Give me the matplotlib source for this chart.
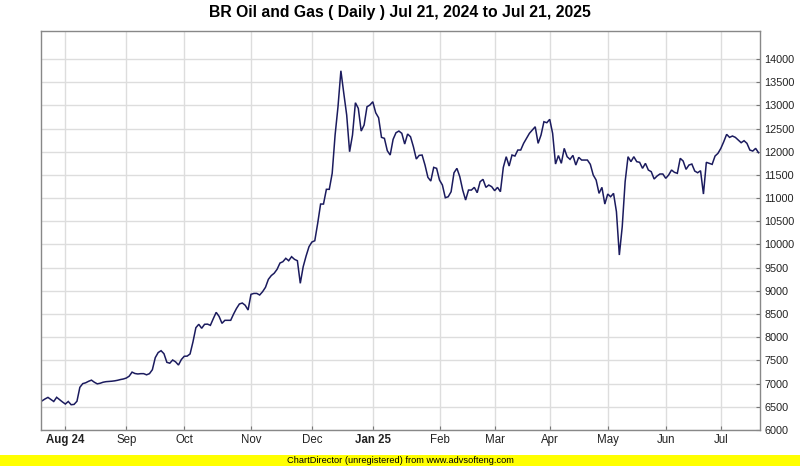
import matplotlib
matplotlib.use('Agg')
import matplotlib.pyplot as plt
from matplotlib.patches import Rectangle
import numpy as np

# daily closes (one per trading session)
close = [
    6630, 6670, 6703, 6660, 6615, 6705, 6655, 6605, 6560, 6615,
    6545, 6552, 6620, 6920, 7000, 7018, 7050, 7075, 7030, 6995,
    7008, 7030, 7042, 7047, 7052, 7060, 7072, 7088, 7100, 7120,
    7160, 7248, 7218, 7208, 7215, 7215, 7190, 7215, 7300, 7560,
    7670, 7710, 7645, 7459, 7440, 7509, 7470, 7401, 7520, 7590,
    7593, 7640, 7900, 8206, 8279, 8193, 8279, 8283, 8257, 8400,
    8537, 8450, 8300, 8365, 8365, 8365, 8500, 8620, 8717, 8738,
    8690, 8587, 8925, 8945, 8945, 8911, 8982, 9077, 9249, 9330,
    9380, 9465, 9600, 9629, 9702, 9650, 9737, 9680, 9650, 9163,
    9521, 9751, 9952, 10053, 10081, 10456, 10872, 10872, 11190, 11190,
    11535, 12360, 12970, 13746, 13259, 12791, 12000, 12360, 13057, 12936,
    12446, 12576, 12970, 13007, 13078, 12841, 12733, 12310, 12289, 12022,
    11929, 12267, 12410, 12446, 12397, 12166, 12382, 12324, 12108, 11843,
    11922, 11929, 11713, 11448, 11368, 11663, 11642, 11390, 11282, 11008,
    11030, 11138, 11547, 11642, 11461, 11174, 10959, 11174, 11174, 11232,
    11117, 11354, 11405, 11232, 11282, 11246, 11160, 11232, 11138, 11663,
    11893, 11692, 11929, 11907, 12037, 12037, 12181, 12289, 12397, 12468,
    12539, 12181, 12360, 12647, 12626, 12699, 12397, 11735, 11918, 11750,
    12073, 11893, 11836, 11922, 11713, 11879, 11821, 11821, 11821, 11728,
    11498, 11390, 11103, 11232, 10872, 11088, 11030, 11103, 10707, 9773,
    10383, 11354, 11893, 11786, 11893, 11786, 11772, 11642, 11750, 11606,
    11570, 11412, 11476, 11520, 11520, 11427, 11498, 11606, 11556, 11535,
    11858, 11800, 11620, 11713, 11735, 11584, 11547, 11591, 11088, 11772,
    11750, 11728, 11907, 11965, 12073, 12216, 12375, 12310, 12339, 12310,
    12252, 12195, 12238, 12181, 12037, 12015, 12073, 11979,
]

# first trading session of each month (index into close)
month_labels = ['Aug 24', 'Sep', 'Oct', 'Nov', 'Dec', 'Jan 25',
                'Feb', 'Mar', 'Apr', 'May', 'Jun', 'Jul']
month_first = [8, 29, 49, 72, 93, 114, 137, 156, 175, 195, 215, 234]
year_labels = ['Aug 24', 'Jan 25']

y_ticks = list(range(6000, 14001, 500))

narrow = ['Liberation Sans Narrow', 'Liberation Sans', 'DejaVu Sans']
plt.rcParams['font.family'] = ['Liberation Sans', 'DejaVu Sans']

W, H = 800, 466
fig = plt.figure(figsize=(W / 100, H / 100), dpi=100)
fig.patch.set_facecolor('white')

# plot area in pixels: x 40.7..760, y 30.7..430
ax = fig.add_axes([40.7 / W, (H - 430) / H, (760 - 40.7) / W, (430 - 30.7) / H])

x = np.arange(len(close))
ax.plot(x, close, color='#1b1b5e', lw=1.1, solid_joinstyle='miter')

ax.set_xlim(-0.5, len(close) - 0.5)
ax.set_ylim(6000, 14610)

ax.set_yticks(y_ticks)
ax.yaxis.tick_right()
ax.set_yticklabels([str(v) for v in y_ticks])
ax.tick_params(axis='y', direction='in', length=3, width=0.8, color='#777777',
               labelsize=7.8, pad=3, labelcolor='#222222')

ax.set_xticks(month_first)
ax.set_xticklabels(month_labels)
ax.tick_params(axis='x', direction='in', length=3, width=0.8, color='#777777',
               pad=3, labelcolor='#222222')
for lab in ax.get_xticklabels():
    lab.set_family(narrow)
    lab.set_fontsize(8.3)
    if lab.get_text() in year_labels:
        lab.set_weight('bold')

ax.grid(True, color='#dddddd', lw=1)
ax.set_axisbelow(True)
for s in ax.spines.values():
    s.set_color('#888888')
    s.set_linewidth(1)

fig.text(0.5, 1 - 13 / H, 'BR Oil and Gas ( Daily ) Jul 21, 2024 to Jul 21, 2025',
         ha='center', va='center', fontsize=11.3, weight='bold', family=narrow)

# yellow credit strip along the bottom
fig.patches.append(Rectangle((0, 0), 1, 11 / H, transform=fig.transFigure,
                             facecolor='#ffff00', edgecolor='none'))
fig.text(0.5, 5.5 / H, 'ChartDirector (unregistered) from www.advsofteng.com',
         ha='center', va='center', fontsize=6.7, family=narrow, color='#000000')

fig.savefig('out.png', dpi=100)
